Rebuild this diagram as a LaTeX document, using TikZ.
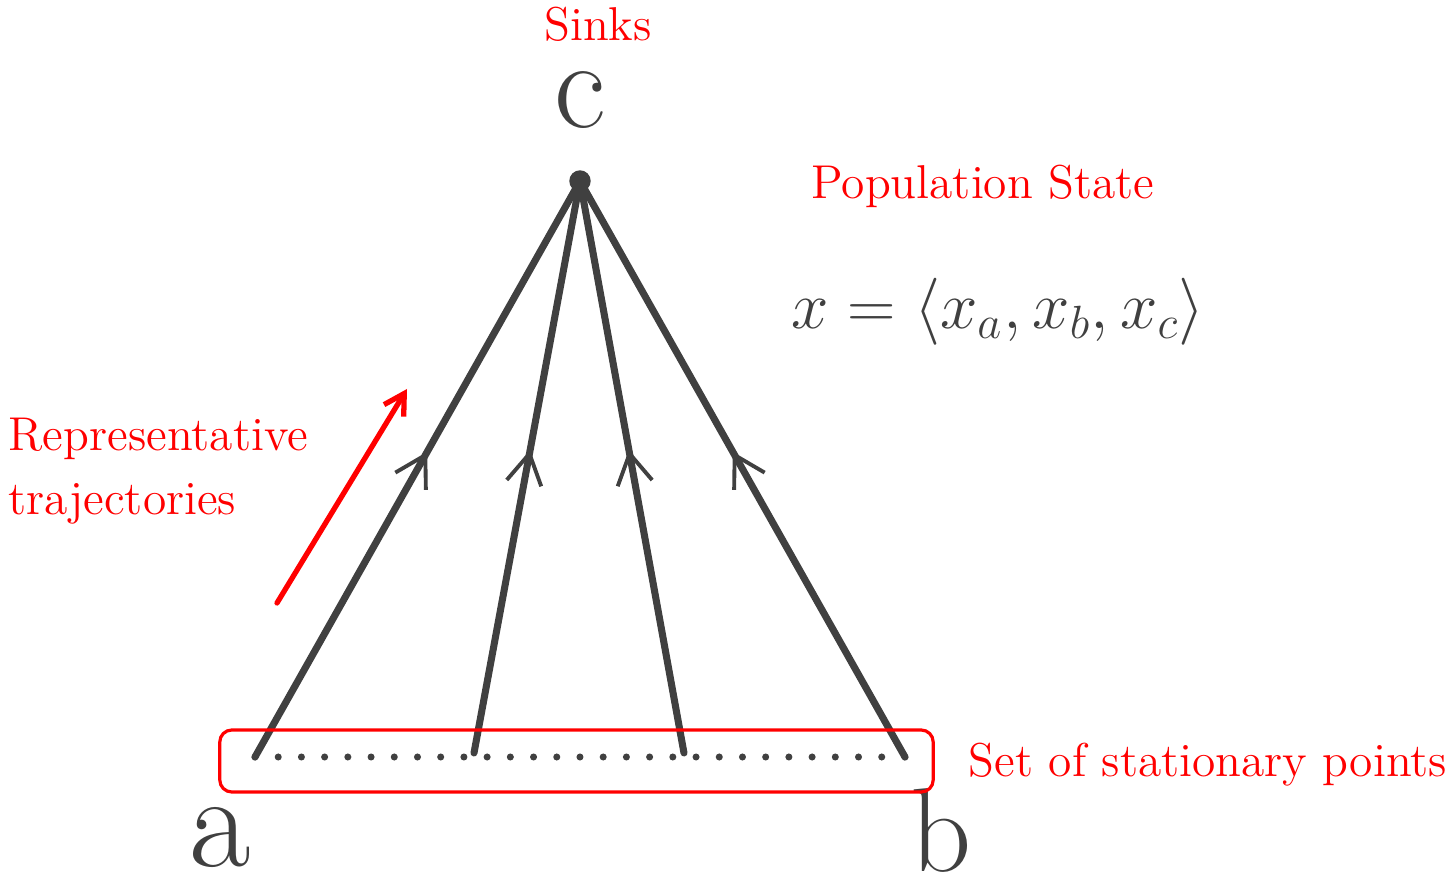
\documentclass[tikz,border=0pt]{standalone}
\usetikzlibrary{arrows.meta,decorations.markings}
\definecolor{dgray}{HTML}{404040}

\begin{document}
\begin{tikzpicture}[
	x=0.01cm, y=-0.01cm,
	vertex/.style={ circle, draw=dgray, fill=dgray, inner sep=0pt, minimum size=0.2cm },
	traj/.style={ dgray, line width=2pt, line cap=round, postaction={decorate},
		decoration={markings, mark=at position 0.53 with {\arrow[line width=1.1pt]{Straight Barb[length=0.3cm,width=0.35cm]}}} },
	baseline/.style={ dgray, line width=2pt, line cap=round, dash pattern=on 0pt off 0.232cm },
	note/.style={ red, inner sep=0pt, font=\fontsize{13.5}{18}\selectfont },
	letter/.style={ dgray, inner sep=0pt }
]
\useasboundingbox (0,0) rectangle (1447,876);

\node at (580,181) (top) [vertex] {};
\coordinate (s1) at (255,757);
\coordinate (s2) at (474,753);
\coordinate (s3) at (684,753);
\coordinate (s4) at (905,757);

\draw[baseline] (s1) -- (s4);
\draw[traj] (s1) to (top.center);
\draw[traj] (s2) to (top.center);
\draw[traj] (s3) to (top.center);
\draw[traj] (s4) to (top.center);

\node at (580,100) (c) [letter, font=\fontsize{36}{40}\selectfont] {c};
\node at (220,838) (a) [letter, font=\fontsize{38}{42}\selectfont] {a};
\node at (941,830) (b) [letter, font=\fontsize{34}{38}\selectfont] {b};

% labels in red
\node at (576.5,761) (box) [draw=red, line width=0.9pt, rounded corners=0.12cm, minimum width=7.13cm, minimum height=0.62cm] {};
\node at (598,24) (sinks) [note] {Sinks};
\node at (983,186) (pop) [note] {Population State};
\node at (998,312) (state) [dgray, inner sep=0pt, scale=0.92] {\fontsize{20}{24}\selectfont$x = \Big\langle x_a, x_b, x_c \Big\rangle$};
\node at (8,471) (rep) [note, anchor=west, align=left] {Representative\\trajectories};
\node at (968,765) (stat) [note, anchor=west] {Set of stationary points};

\coordinate (r0) at (277,603);
\coordinate (r1) at (407,389);
\draw[red, line width=1.5pt, line cap=round, -{Straight Barb[length=0.2cm,width=0.23cm]}] (r0) -- (r1);

\end{tikzpicture}
\end{document}
